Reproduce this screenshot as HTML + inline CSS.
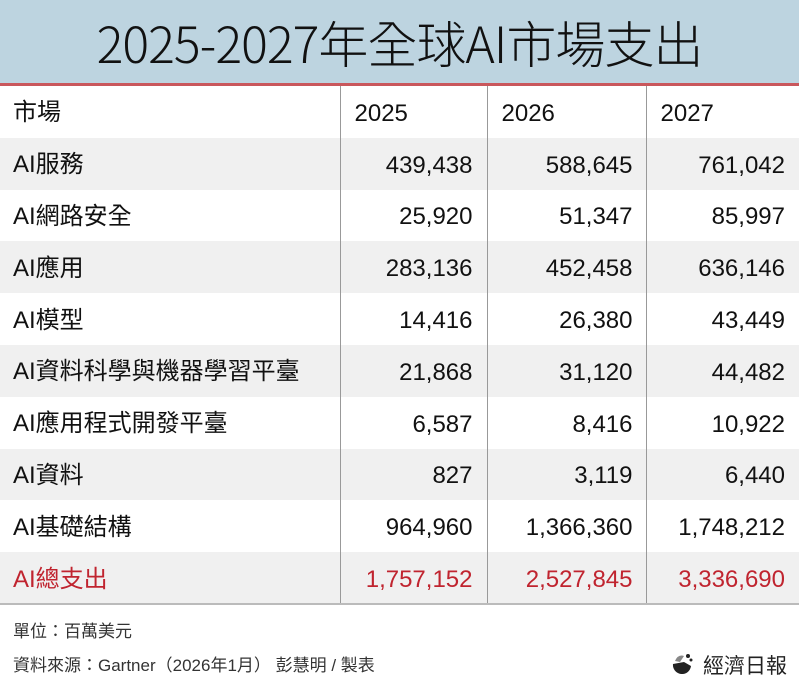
<!DOCTYPE html>
<html><head><meta charset="utf-8"><style>
*{margin:0;padding:0;box-sizing:border-box}
body{width:799px;height:691px;background:#fff;position:relative;overflow:hidden;font-family:"Liberation Sans","Noto Sans CJK TC",sans-serif;color:#111}
.title{position:absolute;left:0;top:0;width:799px;height:83px;background:#bdd4e0;text-align:center;font-size:50px;line-height:84px;color:#111;font-weight:300;font-family:"Noto Sans CJK TC",sans-serif;letter-spacing:-1px}
.red{position:absolute;left:0;top:83px;width:799px;height:3px;background:#c9575c}
table{position:absolute;left:0;top:86px;border-collapse:collapse;width:799px}
td{height:51.8px;font-size:24px;padding:0;vertical-align:middle}
td span{position:relative}
td.l{padding-left:13px;width:340px}
td.l span{top:-2px}
td.n span{top:2px}
td.n{text-align:right;border-left:1.5px solid #999}
td.c1{width:147px;padding-right:14px}
td.c2{width:159px;padding-right:13px}
td.c3{padding-right:14px}
tr.g td{background:#f0f0f0}
tr.t td{color:#c0242f}
tr.h td.n{text-align:left;padding-left:14px}
.bl{position:absolute;left:0;top:603px;width:799px;height:2px;background:#bbb}
.f{position:absolute;left:13px;font-size:17px;color:#333}
</style></head><body>
<div class="title">2025-2027年全球AI市場支出</div>
<div class="red"></div>
<table>
<tr class="h"><td class="l"><span>市場</span></td><td class="n c1"><span>2025</span></td><td class="n c2"><span>2026</span></td><td class="n c3"><span>2027</span></td></tr>
<tr class="g"><td class="l"><span>AI服務</span></td><td class="n c1"><span>439,438</span></td><td class="n c2"><span>588,645</span></td><td class="n c3"><span>761,042</span></td></tr>
<tr><td class="l"><span>AI網路安全</span></td><td class="n c1"><span>25,920</span></td><td class="n c2"><span>51,347</span></td><td class="n c3"><span>85,997</span></td></tr>
<tr class="g"><td class="l"><span>AI應用</span></td><td class="n c1"><span>283,136</span></td><td class="n c2"><span>452,458</span></td><td class="n c3"><span>636,146</span></td></tr>
<tr><td class="l"><span>AI模型</span></td><td class="n c1"><span>14,416</span></td><td class="n c2"><span>26,380</span></td><td class="n c3"><span>43,449</span></td></tr>
<tr class="g"><td class="l"><span>AI資料科學與機器學習平臺</span></td><td class="n c1"><span>21,868</span></td><td class="n c2"><span>31,120</span></td><td class="n c3"><span>44,482</span></td></tr>
<tr><td class="l"><span>AI應用程式開發平臺</span></td><td class="n c1"><span>6,587</span></td><td class="n c2"><span>8,416</span></td><td class="n c3"><span>10,922</span></td></tr>
<tr class="g"><td class="l"><span>AI資料</span></td><td class="n c1"><span>827</span></td><td class="n c2"><span>3,119</span></td><td class="n c3"><span>6,440</span></td></tr>
<tr><td class="l"><span>AI基礎結構</span></td><td class="n c1"><span>964,960</span></td><td class="n c2"><span>1,366,360</span></td><td class="n c3"><span>1,748,212</span></td></tr>
<tr class="g t"><td class="l"><span>AI總支出</span></td><td class="n c1"><span>1,757,152</span></td><td class="n c2"><span>2,527,845</span></td><td class="n c3"><span>3,336,690</span></td></tr>
</table>
<div class="bl"></div>
<div class="f" style="top:617px">單位：百萬美元</div>
<div class="f" style="top:651px">資料來源：Gartner（2026年1月） 彭慧明 / 製表</div>
<svg style="position:absolute;left:670px;top:652px" width="24" height="22" viewBox="0 0 24 22"><path d="M3 12 A9 9 0 0 0 21 14 L14 10 Z" fill="#222"/><path d="M5 9 Q8 2 14 4 L10 10 Z" fill="#888"/><circle cx="18" cy="4" r="2" fill="#222"/><circle cx="21" cy="8" r="1.5" fill="#222"/></svg>
<div class="f" style="top:650px;left:703px;font-size:21px;color:#222">經濟日報</div>
</body></html>
